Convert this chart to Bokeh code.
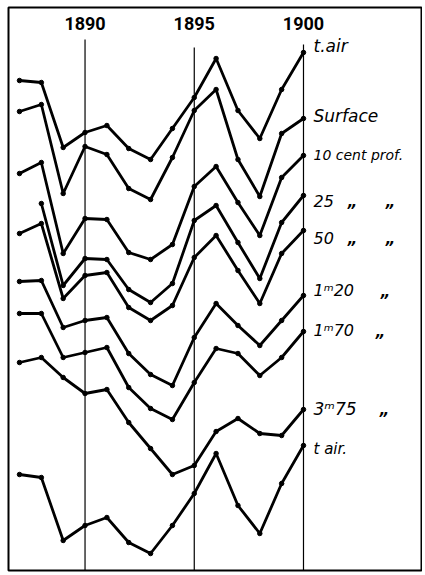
import math
from bokeh.plotting import figure
from bokeh.models import Range1d
from bokeh.core.properties import value
from bokeh.embed import file_html
from bokeh.resources import INLINE

nan = float("nan")
years = list(range(1887, 1901))

# heights of each curve (arbitrary vertical chart units)
t_air = [495, 493, 428, 443, 450, 427, 416, 447, 478, 517, 465, 437, 486, 523]
surface = [464, 471, 382, 429, 421, 387, 376, 418, 465, 486, 416, 379, 442, 457]
cent10 = [402, 413, 322, 357, 356, 323, 316, 331, 389, 409, 373, 340, 398, 420]
cm25 = [nan, 372, 290, 317, 316, 286, 273, 292, 355, 370, 333, 297, 353, 380]
cm50 = [342, 352, 277, 300, 303, 268, 255, 270, 318, 340, 305, 272, 322, 345]
m120 = [294, 295, 248, 255, 258, 222, 201, 190, 238, 272, 250, 230, 255, 280]
m170 = [262, 262, 218, 223, 228, 188, 167, 156, 193, 227, 222, 200, 218, 244]
m375 = [213, 218, 198, 182, 186, 153, 127, 101, 110, 144, 157, 142, 140, 166]
t_air_low = [101, 98, 35, 50, 58, 33, 22, 50, 82, 122, 70, 42, 92, 130]

series = [t_air, surface, cent10, cm25, cm50, m120, m170, m375, t_air_low]
labels = ["t.air", "Surface", "10 cent prof.", "25", "50",
          "1\u1d5020", "1\u1d5070", "3\u1d5075", "t air."]
label_sizes = ["17px", "17px", "14px", "16px", "16px", "16px", "16px", "17px", "15px"]
label_y = [530, 460, 421, 375, 338, 285, 245, 167, 127]

ditto_x_px = [352, 390, 352, 390, 385, 380, 384]
ditto_y = [374, 374, 337, 337, 284, 244, 166]

tick_years = [1890, 1895, 1900]
tick_labels = ["1890", "1895", "1900"]
vline_top = [536, 528, 531]

# frame geometry (page pixels)
FL, FT, FR, FB = 8, 7, 421, 570
X0, X1 = 1886.4965, 1905.402
W_frame = FR - FL
px_per_year = W_frame / (X1 - X0)


def px_to_year(px):
    return X0 + (px - FL) / px_per_year


p = figure(width=422, height=572, x_range=Range1d(X0, X1), y_range=Range1d(5, 568),
           output_backend="svg", toolbar_location=None,
           min_border_left=FL, min_border_top=FT, min_border_right=1, min_border_bottom=2)
p.axis.visible = False
p.grid.visible = False
p.outline_line_color = "black"
p.outline_line_width = 2
p.background_fill_color = "white"
p.border_fill_color = "white"

# vertical year lines
p.segment(x0=tick_years, y0=[5] * 3, x1=tick_years, y1=vline_top,
          line_color="black", line_width=1.2)

for s in series:
    p.line(years, s, line_color="black", line_width=2.8, line_join="round")
    p.scatter(years, s, size=4.5, color="black")

# year labels
p.text(x=tick_years, y=[552] * 3, text=tick_labels, text_font=value("Roboto"),
       text_font_style="bold", text_font_size="18px", text_align="center",
       text_baseline="middle", text_color="black")

# curve labels
lx = px_to_year(313)
for lab, ly, fs in zip(labels, label_y, label_sizes):
    p.text(x=[lx], y=[ly], text=[lab], text_font=value("DejaVu Sans"),
           text_font_style="italic", text_font_size=fs, text_align="left",
           text_baseline="middle", text_color="black")

p.text(x=[px_to_year(v) for v in ditto_x_px], y=ditto_y, text=["\u201e"] * len(ditto_y),
       text_font=value("DejaVu Sans"), text_font_style="bold italic",
       text_font_size="15px", text_align="center", text_baseline="middle",
       text_color="black")

open("out.html", "w").write(file_html(p, INLINE))
